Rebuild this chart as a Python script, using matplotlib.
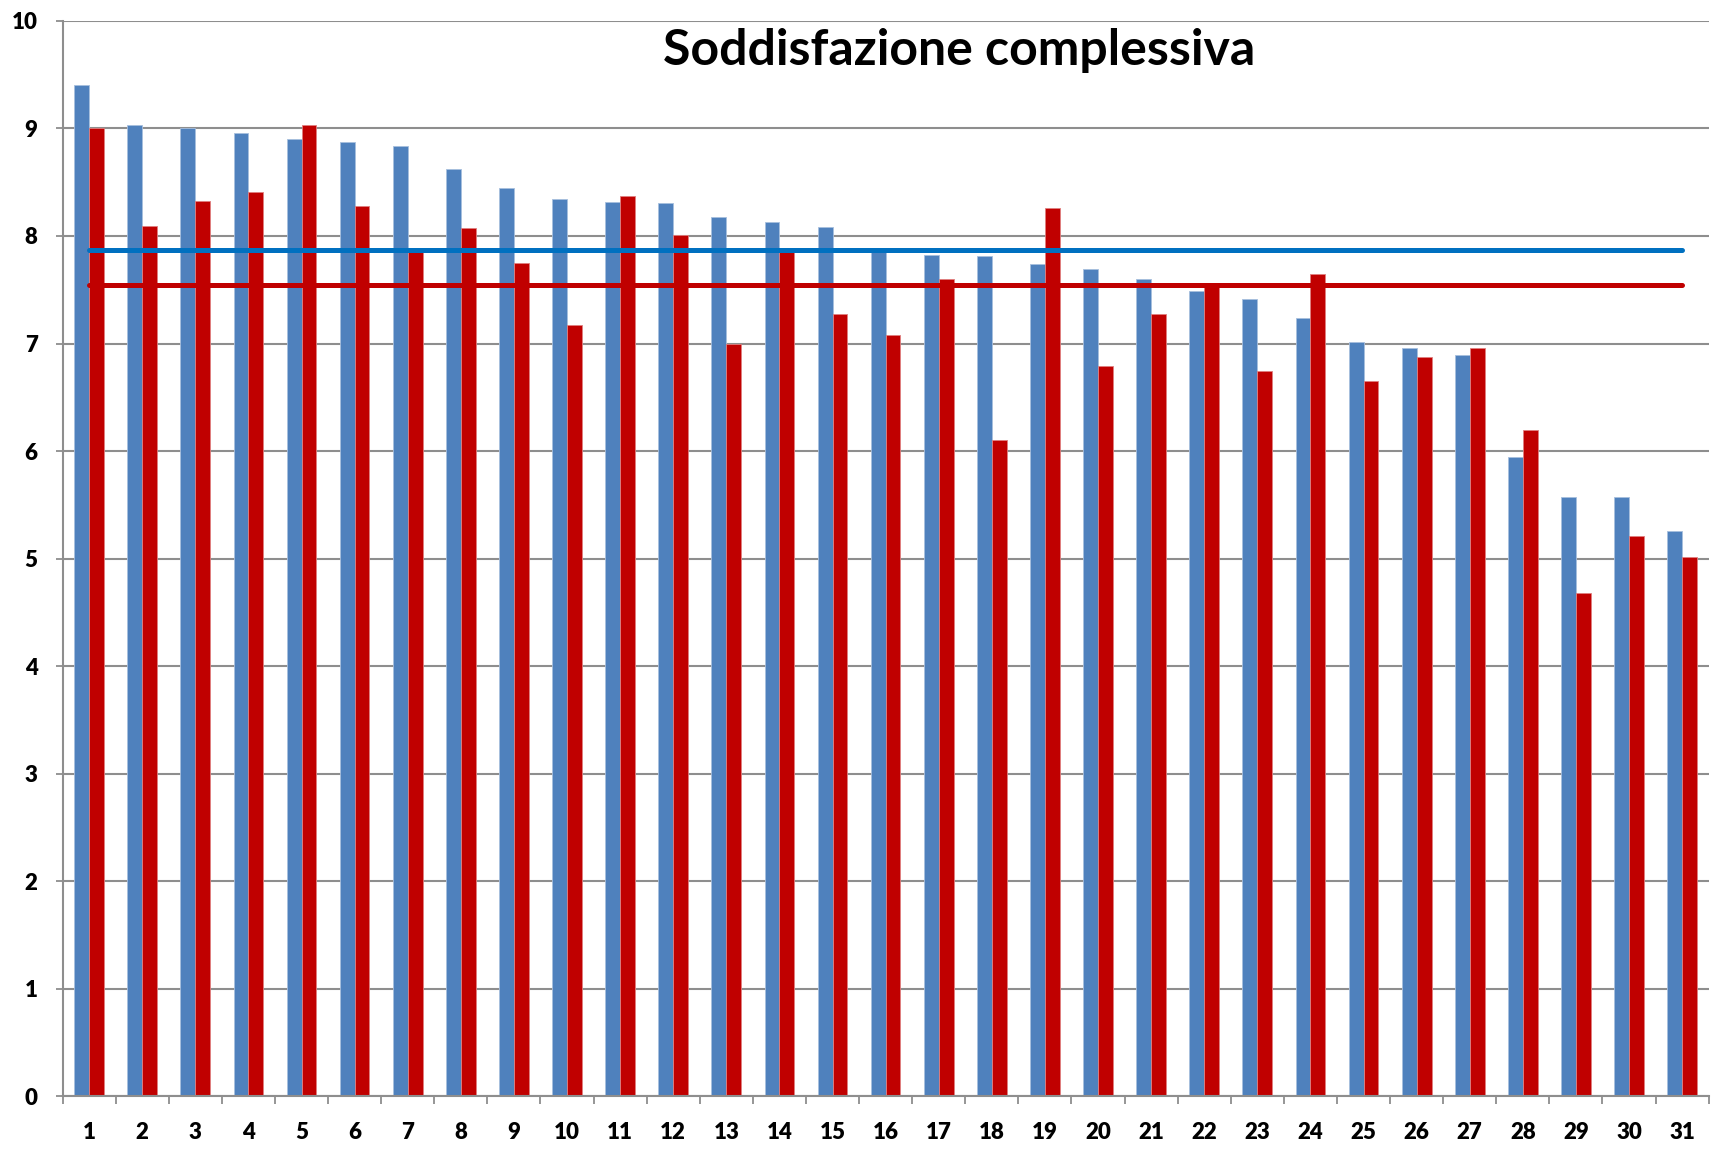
import matplotlib
matplotlib.use("Agg")
import matplotlib.pyplot as plt
import numpy as np

categories = [str(i) for i in range(1, 32)]
serie_blu = [9.40, 9.03, 9.00, 8.96, 8.90, 8.87, 8.84, 8.62, 8.45, 8.34, 8.32, 8.31, 8.18, 8.13, 8.08, 7.87,
             7.82, 7.81, 7.74, 7.69, 7.60, 7.49, 7.41, 7.24, 7.01, 6.96, 6.89, 5.94, 5.57, 5.57, 5.26]
serie_rossa = [9.00, 8.09, 8.33, 8.41, 9.03, 8.28, 7.86, 8.07, 7.75, 7.17, 8.37, 8.01, 7.00, 7.86, 7.27, 7.08,
               7.60, 6.10, 8.26, 6.79, 7.27, 7.56, 6.74, 7.65, 6.65, 6.87, 6.96, 6.20, 4.68, 5.21, 5.01]
media_blu = 7.87
media_rossa = 7.54
y_ticks = list(range(0, 11))
title = "Soddisfazione complessiva"

plt.rcParams['font.family'] = ['Lato', 'DejaVu Sans']

fig = plt.figure(figsize=(17.19, 11.53), dpi=100)
ax = fig.add_axes([0.0364, 0.0494, 0.9576, 0.9324])

x = np.arange(1, len(categories) + 1)
w = 0.28
ax.bar(x - w / 2, serie_blu, width=w, color="#4F81BD", edgecolor="#A7BFDE", linewidth=0.6, zorder=2)
ax.bar(x + w / 2, serie_rossa, width=w, color="#C00000", edgecolor="#E08080", linewidth=0.6, zorder=2)

ax.plot([x[0], x[-1]], [media_blu, media_blu], color="#0070C0", lw=3.6, solid_capstyle="round", zorder=3)
ax.plot([x[0], x[-1]], [media_rossa, media_rossa], color="#C00000", lw=3.6, solid_capstyle="round", zorder=3)

ax.set_xlim(0.5, len(categories) + 0.5)
ax.set_ylim(0, 10)
ax.set_yticks(y_ticks)
ax.set_yticklabels([str(v) for v in y_ticks], fontsize=16, fontweight="heavy")
ax.yaxis.grid(True, color="#8E8E8E", lw=1.5, zorder=0)
ax.set_axisbelow(True)

ax.set_xticks(x)
ax.set_xticklabels(categories, fontsize=16, fontweight="heavy")
ax.set_xticks(np.arange(0.5, len(categories) + 1, 1.0), minor=True)
ax.tick_params(axis="x", which="major", length=0, pad=19)
ax.tick_params(axis="x", which="minor", length=6, width=1.3, color="#8E8E8E")
ax.tick_params(axis="y", which="major", length=5, width=1.3, color="#8E8E8E", pad=13)

for s in ["top", "right"]:
    ax.spines[s].set_visible(False)
for s in ["left", "bottom"]:
    ax.spines[s].set_color("#8E8E8E")
    ax.spines[s].set_linewidth(1.5)

ax.text(0.5446, 0.9725, title, transform=ax.transAxes, ha="center", va="center",
        fontsize=36, fontweight="bold", color="black")

fig.savefig("out.png", dpi=100)
